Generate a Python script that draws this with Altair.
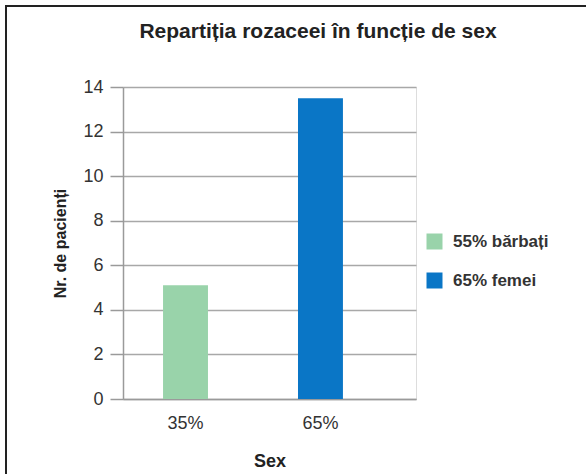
import altair as alt
import pandas as pd

# Chart data
chart_title = "Repartiția rozaceei în funcție de sex"
categories = ["35%", "65%"]
patients = [5.1, 13.5]
groups = ["55% bărbați", "65% femei"]
colors = ["#99d3aa", "#0a76c6"]
y_ticks = [0, 2, 4, 6, 8, 10, 12, 14]

df = pd.DataFrame({"sex": categories, "n": patients, "grup": groups})
title_df = pd.DataFrame({"t": [chart_title]})

FONT = "Liberation Sans"
W, H = 293, 312
LEFT, TOP = 123, 87

bars = alt.Chart(df).mark_bar().encode(
    x=alt.X(
        "sex:N",
        sort=categories,
        scale=alt.Scale(paddingInner=0.667, paddingOuter=0.419, align=0.354),
        axis=alt.Axis(
            title="Sex", labelAngle=0, ticks=False, labelPadding=15,
            labelFontSize=18, labelColor="#333333", labelFont=FONT,
            titleFontSize=18, titleFont=FONT, titleFontWeight="bold",
            titleColor="#222222", titlePadding=20,
            domainColor="#9a9a9a", domainWidth=1.5, grid=False,
        ),
    ),
    y=alt.Y(
        "n:Q",
        scale=alt.Scale(domain=[0, 14], nice=False),
        axis=alt.Axis(
            title="Nr. de pacienți", values=y_ticks, tickSize=13,
            tickColor="#9a9a9a", tickWidth=1.5, labelPadding=7,
            labelFontSize=18, labelColor="#333333", labelFont=FONT,
            titleFontSize=16, titleFont=FONT, titleFontWeight="bold",
            titleColor="#222222", titlePadding=14,
            domainColor="#9a9a9a", domainWidth=1.5,
            grid=True, gridColor="#a8a8a8", gridWidth=1.5,
        ),
    ),
    color=alt.Color(
        "grup:N",
        sort=groups,
        scale=alt.Scale(domain=groups, range=colors),
        legend=alt.Legend(
            title=None, orient="none", legendX=303, legendY=146,
            symbolType="square", symbolSize=256, symbolStrokeWidth=0,
            labelFontSize=17, labelFont=FONT, labelFontWeight="bold",
            labelColor="#333333", labelOffset=10, rowPadding=21,
        ),
    ),
)

# Frame around the figure
frame = alt.Chart(title_df).mark_rect(
    fill=None, stroke="#222222", strokeWidth=2, clip=False
).encode(
    x=alt.value(6 - LEFT), x2=alt.value(640 - LEFT),
    y=alt.value(6 - TOP), y2=alt.value(520 - TOP),
)

# Heading above the plot
heading = alt.Chart(title_df).mark_text(
    font=FONT, fontSize=21, fontWeight="bold", color="#222222",
    align="center", baseline="alphabetic",
).encode(
    text="t:N",
    x=alt.value(318 - LEFT),
    y=alt.value(38 - TOP),
)

chart = alt.layer(frame, heading, bars).properties(
    width=W,
    height=H,
    autosize=alt.AutoSizeParams(type="none"),
    padding={"left": LEFT, "top": TOP, "right": 586 - LEFT - W, "bottom": 474 - TOP - H},
).configure_view(stroke=None).configure(background="white")

chart.save("out.html", embed_options={"renderer": "svg", "actions": False})
